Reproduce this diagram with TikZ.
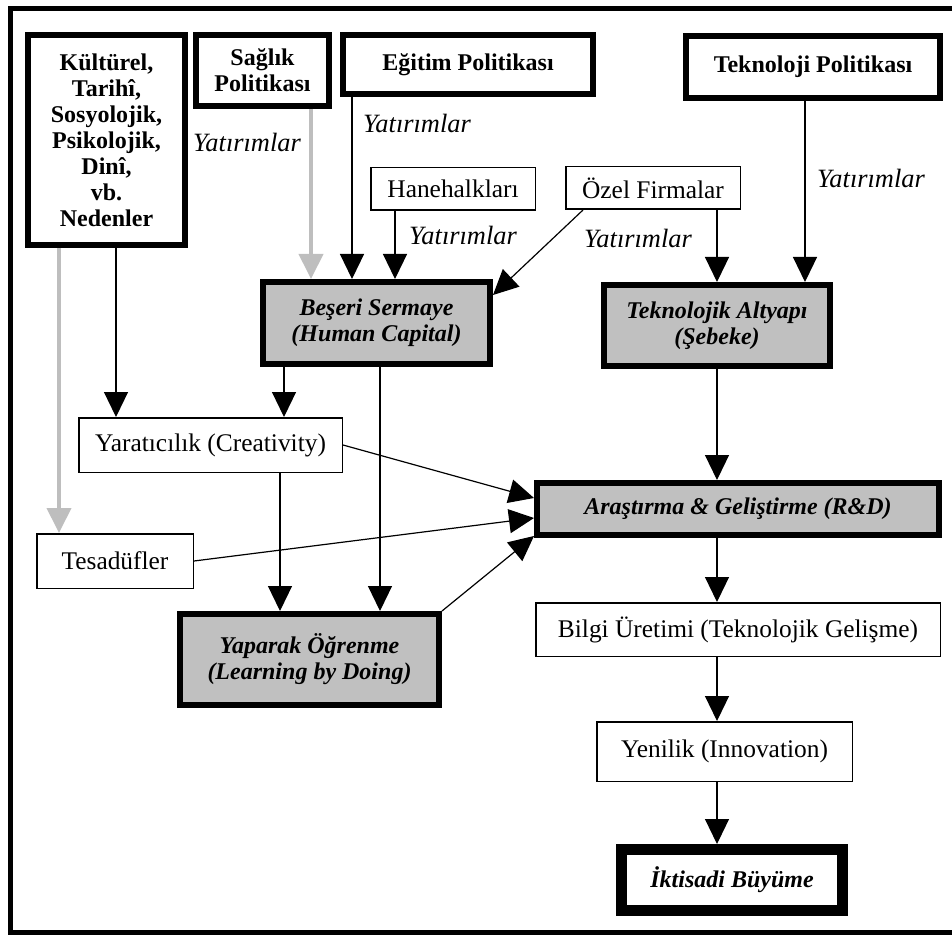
\documentclass[tikz,border=0pt]{standalone}
\usepackage{fontspec}
\setmainfont{Liberation Serif}
\usetikzlibrary{arrows.meta}

\newcommand{\diagfont}{\fontsize{12}{13}\selectfont}
\newcommand{\plainfont}{\fontsize{12.7}{14}\selectfont}
\definecolor{boxgrey}{HTML}{C0C0C0}
\definecolor{lightarrow}{HTML}{BEBEBE}

\tikzset{
	polbox/.style={draw, line width=3pt, align=center, inner sep=1pt, font=\diagfont\bfseries},
	keybox/.style={draw, line width=3pt, fill=boxgrey, align=center, inner sep=1pt, font=\diagfont\bfseries\itshape},
	thinbox/.style={draw, line width=0.75pt, align=center, inner sep=1pt, font=\plainfont},
	goalbox/.style={draw, line width=5.5pt, align=center, inner sep=1pt, font=\diagfont\bfseries\itshape},
	invest/.style={font=\fontsize{13.2}{15}\selectfont\itshape, inner sep=0pt},
	flow/.style={->, line width=0.6pt},
	greyflow/.style={->, line width=2pt, draw=lightarrow}
}

\begin{document}
\begin{tikzpicture}[x=0.5pt, y=-0.5pt, >={Triangle[length=12.5pt, width=12pt]}]
	\useasboundingbox (0,0) rectangle (952,935);
	\draw[line width=2.5pt] (10.5,9) rectangle (970,932);

	% upper row: causes and policies
	\node[polbox, minimum width=78.5pt, minimum height=105pt] (kultur) at (106.5,140)
		{Kültürel,\\Tarihî,\\Sosyolojik,\\Psikolojik,\\Dinî,\\vb.\\Nedenler};
	\node[polbox, minimum width=66.5pt, minimum height=35.5pt] (saglik) at (262.5,70.5) {Sağlık\\Politikası};
	\node[polbox, minimum width=125pt, minimum height=29.5pt] (egitim) at (468,64.5) {Eğitim Politikası};
	\node[polbox, minimum width=127pt, minimum height=31pt] (teknopol) at (813,67) {Teknoloji Politikası};

	\node[thinbox, minimum width=82.25pt, minimum height=21.25pt] (hane) at (453,189) {Hanehalkları};
	\node[thinbox, minimum width=87.25pt, minimum height=21.25pt] (ozel) at (653,188) {Özel Firmalar};

	% capital and infrastructure
	\node[keybox, minimum width=113.5pt, minimum height=41pt] (beseri) at (376.5,323) {Beşeri Sermaye\\(Human Capital)};
	\node[keybox, minimum width=113pt, minimum height=40.5pt] (altyapi) at (717,325.5) {Teknolojik Altyapı\\(Şebeke)};

	\node[thinbox, minimum width=131.75pt, minimum height=27.25pt] (yarat) at (210.5,445) {Yaratıcılık (Creativity)};
	\node[thinbox, minimum width=78.25pt, minimum height=27.25pt] (tesaduf) at (115,561) {Tesadüfler};
	\node[keybox, minimum width=201pt, minimum height=26pt] (rd) at (738,509) {Araştırma \& Geliştirme (R\&D)};
	\node[keybox, minimum width=129.5pt, minimum height=45.5pt] (yaparak) at (309.5,659.5) {Yaparak Öğrenme\\(Learning by Doing)};

	% outcome chain
	\node[thinbox, minimum width=202.25pt, minimum height=26.75pt] (bilgi) at (738,629.5) {Bilgi Üretimi (Teknolojik Gelişme)};
	\node[thinbox, minimum width=127.75pt, minimum height=29.75pt] (yenilik) at (724.5,751.5) {Yenilik (Innovation)};
	\node[goalbox, minimum width=110.5pt, minimum height=30.5pt] (buyume) at (732,880) {İktisadi Büyüme};

	% investment labels
	\node[invest] (yat1) at (247,142) {Yatırımlar};
	\node[invest] (yat2) at (417,123) {Yatırımlar};
	\node[invest] (yat3) at (463,235) {Yatırımlar};
	\node[invest] (yat4) at (638,238) {Yatırımlar};
	\node[invest] (yat5) at (871,178) {Yatırımlar};

	% vertical lanes of the arrows
	\coordinate (xtes) at (59,0);
	\coordinate (xyar) at (116,0);
	\coordinate (xlrn) at (280,0);
	\coordinate (xcre) at (284,0);
	\coordinate (xsag) at (311,0);
	\coordinate (xegi) at (352,0);
	\coordinate (xhcl) at (380,0);
	\coordinate (xhan) at (395,0);
	\coordinate (xmid) at (717,0);
	\coordinate (xtek) at (805,0);

	\draw[greyflow] (saglik.south -| xsag) -- (beseri.north -| xsag);
	\draw[greyflow] (kultur.south -| xtes) -- (tesaduf.north -| xtes);
	\draw[flow] (egitim.south -| xegi) -- (beseri.north -| xegi);
	\draw[flow] (hane.south -| xhan) -- (beseri.north -| xhan);
	\draw[flow] ([xshift=9pt]ozel.south west) -- ([yshift=-8pt]beseri.north east);
	\draw[flow] (ozel.south -| xmid) -- (altyapi.north -| xmid);
	\draw[flow] (teknopol.south -| xtek) -- (altyapi.north -| xtek);

	\draw[flow] (kultur.south -| xyar) -- (yarat.north -| xyar);
	\draw[flow] (beseri.south -| xcre) -- (yarat.north -| xcre);
	\draw[flow] (beseri.south -| xhcl) -- (yaparak.north -| xhcl);
	\draw[flow] (yarat.south -| xlrn) -- (yaparak.north -| xlrn);

	\draw[flow] (yarat.east) -- ([yshift=5.5pt]rd.west);
	\draw[flow] (tesaduf.east) -- ([yshift=-4.5pt]rd.west);
	\draw[flow] (yaparak.north east) -- ([yshift=1pt]rd.south west);
	\draw[flow] (altyapi.south -| xmid) -- (rd.north -| xmid);

	\draw[flow] (rd.south -| xmid) -- (bilgi.north -| xmid);
	\draw[flow] (bilgi.south -| xmid) -- (yenilik.north -| xmid);
	\draw[flow] (yenilik.south -| xmid) -- (buyume.north -| xmid);
\end{tikzpicture}
\end{document}
